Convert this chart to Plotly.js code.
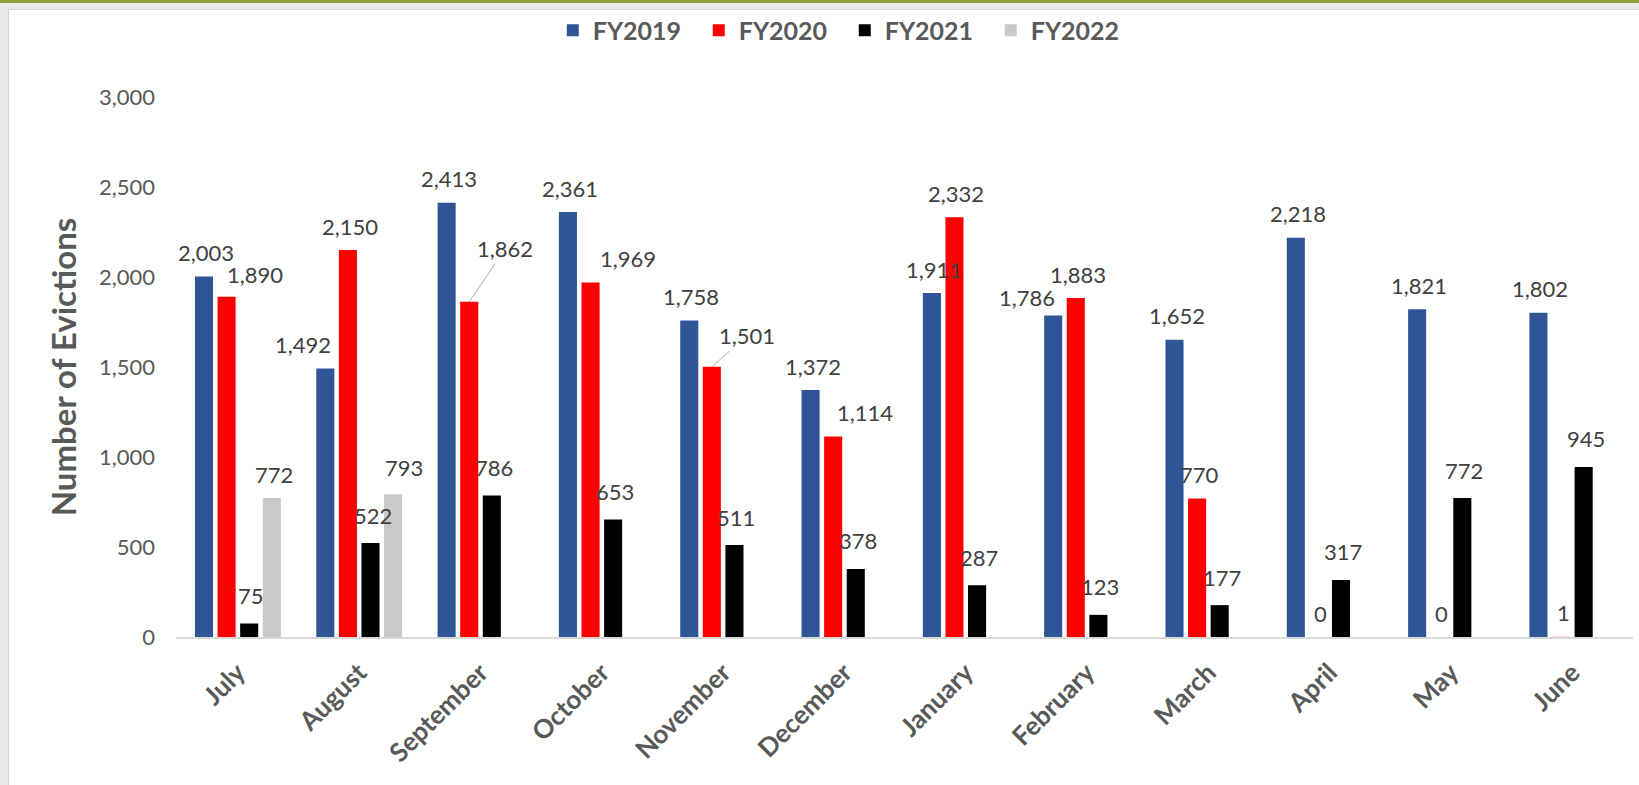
<!DOCTYPE html>
<html>
<head>
<meta charset="utf-8">
<script src="https://cdn.plot.ly/plotly-3.0.1.min.js"></script>
<style>
  html, body { margin: 0; padding: 0; background: #ffffff; }
  #topline { position: absolute; left: 0; top: 0; width: 1639px; height: 3px; background: #8ea33c; }
  #topstrip { position: absolute; left: 0; top: 3px; width: 1639px; height: 6px; background: #e9e9e9; }
  #leftstrip { position: absolute; left: 0; top: 3px; width: 8px; height: 782px; background: #e9e9e9; }
  #frame { position: absolute; left: 8px; top: 9px; width: 1631px; height: 776px; background: #ffffff; border-left: 1px solid #d4d4d4; border-top: 1px solid #d4d4d4; box-sizing: border-box; }
  #chart { position: absolute; left: 0; top: 0; width: 1639px; height: 785px; }
</style>
</head>
<body>
<div id="topline"></div>
<div id="topstrip"></div>
<div id="leftstrip"></div>
<div id="frame"></div>
<div id="chart"></div>
<script>
// ---- data ----
const months = ["July", "August", "September", "October", "November", "December",
                "January", "February", "March", "April", "May", "June"];
const fy2019 = [2003, 1492, 2413, 2361, 1758, 1372, 1911, 1786, 1652, 2218, 1821, 1802];
const fy2020 = [1890, 2150, 1862, 1969, 1501, 1114, 2332, 1883, 770, 0, 0, 1];
const fy2021 = [75, 522, 786, 653, 511, 378, 287, 123, 177, 317, 772, 945];
const fy2022 = [772, 793, null, null, null, null, null, null, null, null, null, null];
const seriesNames = ["FY2019", "FY2020", "FY2021", "FY2022"];

// ---- styles ----
const colors = ["#2f5597", "#ff0000", "#000000", "#c9c9c9"];
const bargap = 0.255;
const bargroupgap = 0.2;
// manual label offsets in pixels [dx, dy(down)], as placed in the original
const labelNudge = {
  "FY2020|July": [26, 2],
  "FY2019|August": [-24, 0],
  "FY2022|August": [9, -3],
  "FY2020|October": [35, 0],
  "FY2020|December": [30, 0],
  "FY2019|February": [-28, 6]
};
const leaderLabels = {
  "FY2020|September": [36, -53],
  "FY2020|November": [35, -31]
};

const allSeries = [fy2019, fy2020, fy2021, fy2022];
const textColor = "#595959";
const FONT = "Lato, 'Open Sans', sans-serif";
const labelFont = { family: FONT, size: 22, color: "#404040" };

const traces = allSeries.map((vals, k) => ({
  type: "bar",
  name: seriesNames[k],
  x: months,
  y: vals,
  marker: { color: colors[k], line: { width: 0 } },
  hoverinfo: "x+y+name"
}));

const fmt = v => v.toLocaleString("en-US");
const slot = (1 - bargap) / 4;
const annotations = [];
allSeries.forEach((vals, k) => {
  vals.forEach((v, i) => {
    if (v === null || v === undefined) return;
    const key = seriesNames[k] + "|" + months[i];
    const xPos = i + (k - 1.5) * slot;
    const base = k === 2 ? 28 : 24;
    if (leaderLabels[key]) {
      const [ax, ay] = leaderLabels[key];
      annotations.push({
        x: xPos, y: v, xref: "x", yref: "y",
        text: fmt(v), font: labelFont,
        showarrow: true, arrowhead: 0, arrowwidth: 1, arrowcolor: "#b0b0b0",
        standoff: 0, ax: ax, ay: ay
      });
    } else {
      const nd = labelNudge[key] || [0, 0];
      annotations.push({
        x: xPos, y: v, xref: "x", yref: "y",
        text: fmt(v), font: labelFont,
        showarrow: false, xanchor: "center", yanchor: "middle",
        xshift: 2 + nd[0], yshift: base - nd[1]
      });
    }
  });
});

const layout = {
  width: 1639,
  height: 785,
  paper_bgcolor: "rgba(0,0,0,0)",
  plot_bgcolor: "rgba(0,0,0,0)",
  margin: { l: 176, r: 6, t: 97, b: 148 },
  barmode: "group",
  bargap: bargap,
  bargroupgap: bargroupgap,
  font: { family: FONT, color: textColor },
  showlegend: true,
  legend: {
    orientation: "h",
    x: 0.459, xanchor: "center",
    y: 1.123, yanchor: "middle",
    font: { family: FONT, size: 25, color: textColor, weight: "bold" },
    itemwidth: 30,
    entrywidth: 101,
    entrywidthmode: "pixels",
    traceorder: "normal"
  },
  xaxis: {
    type: "category",
    tickangle: -45,
    tickfont: { family: FONT, size: 26, color: textColor, weight: "bold" },
    showline: true, linecolor: "#d9d9d9", linewidth: 2,
    ticks: "", showgrid: false, zeroline: false,
    ticklabelstandoff: 8
  },
  yaxis: {
    range: [0, 3000],
    tickvals: [0, 500, 1000, 1500, 2000, 2500, 3000],
    tickformat: ",d",
    tickfont: { family: FONT, size: 22, color: textColor },
    showgrid: false, zeroline: false, showline: false, ticks: "",
    ticklabelstandoff: 20,
    title: {
      text: "Number of Evictions",
      font: { family: FONT, size: 33, color: textColor, weight: "bold" },
      standoff: 12
    }
  },
  annotations: annotations
};

Plotly.newPlot("chart", traces, layout, { staticPlot: true, displayModeBar: false });
</script>
</body>
</html>
